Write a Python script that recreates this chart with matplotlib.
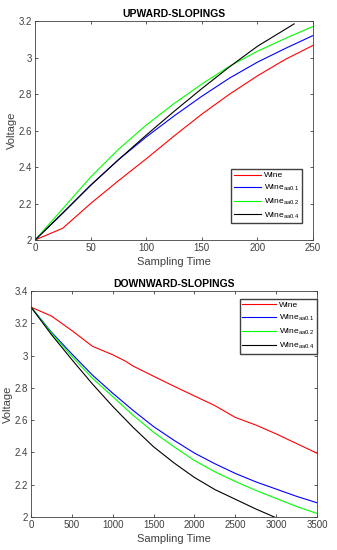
import numpy as np
import matplotlib.pyplot as plt
from matplotlib.ticker import FormatStrFormatter

plt.rcParams['font.family'] = ['Liberation Sans', 'DejaVu Sans']
plt.rcParams['mathtext.default'] = 'regular'

labels = ['Wine', 'Wine$_{aa0.1}$', 'Wine$_{aa0.2}$', 'Wine$_{aa0.4}$']
colors = ['#ff0000', '#0000ff', '#00ff00', '#000000']

# upward-sloping curves
up_x = [0, 25, 50, 75, 100, 125, 150, 175, 200, 225, 250]
up_wine = [2.0, 2.065, 2.20, 2.325, 2.445, 2.57, 2.69, 2.80, 2.90, 2.99, 3.067]
up_aa01 = [2.0, 2.148, 2.30, 2.44, 2.565, 2.68, 2.788, 2.888, 2.975, 3.05, 3.121]
up_aa02 = [2.0, 2.172, 2.345, 2.497, 2.63, 2.748, 2.855, 2.953, 3.035, 3.105, 3.171]
up_x4 = [0, 25, 50, 75, 100, 125, 150, 175, 200, 225, 233]
up_aa04 = [2.0, 2.148, 2.30, 2.44, 2.575, 2.705, 2.83, 2.95, 3.062, 3.155, 3.185]

# downward-sloping curves
dn_x_wine = [0, 250, 500, 750, 1000, 1150, 1250, 1500, 1750, 2000, 2250,
             2500, 2750, 3000, 3250, 3500]
dn_wine = [3.30, 3.245, 3.155, 3.058, 3.005, 2.967, 2.935, 2.872, 2.81, 2.75,
           2.69, 2.617, 2.57, 2.515, 2.455, 2.395]
dn_x = [0, 250, 500, 750, 1000, 1250, 1500, 1750, 2000, 2250, 2500, 2750,
        3000, 3250, 3500]
dn_aa01 = [3.30, 3.145, 3.01, 2.88, 2.767, 2.66, 2.56, 2.475, 2.396, 2.33,
           2.27, 2.218, 2.173, 2.128, 2.088]
dn_aa02 = [3.30, 3.14, 2.995, 2.86, 2.746, 2.63, 2.525, 2.435, 2.35, 2.28,
           2.22, 2.165, 2.115, 2.065, 2.022]
dn_x4 = [0, 250, 500, 750, 1000, 1250, 1500, 1750, 2000, 2250, 2500, 2750, 3000]
dn_aa04 = [3.30, 3.13, 2.975, 2.825, 2.685, 2.555, 2.435, 2.335, 2.245, 2.17,
           2.11, 2.05, 1.995]

fig = plt.figure(figsize=(3.37, 5.5), dpi=100)
ax1 = fig.add_axes([0.1039, 0.5636, 0.825, 0.398])
ax2 = fig.add_axes([0.092, 0.06, 0.8487, 0.4109])

ax1.plot(up_x, up_wine, color=colors[0], lw=0.8, label=labels[0])
ax1.plot(up_x, up_aa01, color=colors[1], lw=0.8, label=labels[1])
ax1.plot(up_x, up_aa02, color=colors[2], lw=0.8, label=labels[2])
ax1.plot(up_x4, up_aa04, color=colors[3], lw=0.8, label=labels[3])
ax1.set_xlim(0, 250)
ax1.set_ylim(2, 3.2)
ax1.set_xticks([0, 50, 100, 150, 200, 250])
ax1.set_yticks([2, 2.2, 2.4, 2.6, 2.8, 3, 3.2])
ax1.set_title('UPWARD-SLOPINGS', fontsize=7.5, fontweight='bold', pad=3)
ax1.set_xlabel('Sampling Time', fontsize=8, color='#404040', labelpad=3)
ax1.set_ylabel('Voltage', fontsize=8, color='#404040', labelpad=1)
ax1.legend(loc='lower right', bbox_to_anchor=(0.9604, 0.0776), borderaxespad=0,
           fontsize=6, frameon=True, fancybox=False, edgecolor='#404040',
           framealpha=1, handlelength=3.2, labelspacing=0.42, borderpad=0.3,
           handletextpad=0.4)

ax2.plot(dn_x_wine, dn_wine, color=colors[0], lw=0.8, label=labels[0])
ax2.plot(dn_x, dn_aa01, color=colors[1], lw=0.8, label=labels[1])
ax2.plot(dn_x, dn_aa02, color=colors[2], lw=0.8, label=labels[2])
ax2.plot(dn_x4, dn_aa04, color=colors[3], lw=0.8, label=labels[3])
ax2.set_xlim(0, 3500)
ax2.set_ylim(2, 3.4)
ax2.set_xticks(np.arange(0, 3501, 500))
ax2.set_yticks([2, 2.2, 2.4, 2.6, 2.8, 3, 3.2, 3.4])
ax2.set_title('DOWNWARD-SLOPINGS', fontsize=7.5, fontweight='bold', pad=3)
ax2.set_xlabel('Sampling Time', fontsize=8, color='#404040', labelpad=3)
ax2.set_ylabel('Voltage', fontsize=8, color='#404040', labelpad=1)
ax2.legend(loc='upper right', bbox_to_anchor=(1.0, 0.9646), borderaxespad=0,
           fontsize=6, frameon=True, fancybox=False, edgecolor='#404040',
           framealpha=1, handlelength=4.0, labelspacing=0.45, borderpad=0.3,
           handletextpad=0.4)

for ax in (ax1, ax2):
    ax.yaxis.set_major_formatter(FormatStrFormatter('%g'))
    ax.tick_params(direction='in', length=2.5, width=0.6, labelsize=7,
                   colors='#404040', top=True, right=True, pad=2)
    for s in ax.spines.values():
        s.set_color('#404040')
        s.set_linewidth(0.6)

fig.savefig('out.png', dpi=100)
